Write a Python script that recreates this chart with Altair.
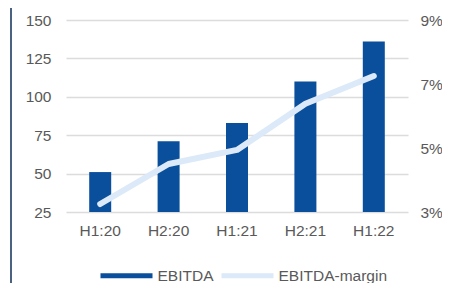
import altair as alt
import pandas as pd

categories = ["H1:20", "H2:20", "H1:21", "H2:21", "H1:22"]
ebitda = [51, 71, 83, 110, 136]
margin = [0.0325, 0.045, 0.0494, 0.0638, 0.0725]
series = ["EBITDA", "EBITDA-margin"]
left_ticks = [25, 50, 75, 100, 125, 150]
right_ticks = [0.03, 0.05, 0.07, 0.09]

BAR = "#0a4f9c"
LINE = "#dbe9f8"
FONT = "Liberation Sans"
TXT = "#595959"

bars_df = pd.DataFrame({"cat": categories, "value": ebitda, "series": series[0]})
line_df = pd.DataFrame({"cat": categories, "margin": margin, "series": series[1]})

xaxis = alt.Axis(labelAngle=0, domain=False, ticks=False, tickSize=0,
                 grid=False, labelPadding=11, labelFontSize=15.5,
                 labelFont=FONT, labelColor=TXT)
xscale = alt.Scale(paddingInner=0.0, paddingOuter=0.0)

color_scale = alt.Scale(domain=series, range=[BAR, LINE])

bars = alt.Chart(bars_df).mark_bar(size=22, color=BAR).encode(
    x=alt.X("cat:N", sort=categories, title=None, scale=xscale, axis=xaxis),
    y=alt.Y("value:Q", title=None,
            scale=alt.Scale(domain=[25, 150], nice=False, zero=False),
            axis=alt.Axis(values=left_ticks, grid=True, gridColor="#dcdcdc",
                          gridWidth=1.5, domain=False, ticks=False, tickSize=0,
                          labelPadding=15, labelFontSize=15.5, labelFont=FONT,
                          labelColor=TXT)),
    y2=alt.Y2(datum=25),
    color=alt.Color("series:N", scale=color_scale, title=None,
                    legend=alt.Legend(orient="none", legendX=34.5, legendY=229.5,
                                      direction="horizontal",
                                      symbolType="M-1,-0.095H1V0.095H-1Z",
                                      symbolSize=2704, symbolStrokeWidth=0,
                                      labelFontSize=15.5, labelFont=FONT,
                                      labelColor=TXT, labelOffset=5,
                                      columnPadding=8, padding=0)),
)

line = alt.Chart(line_df).mark_line(strokeWidth=6, strokeCap="round",
                                    strokeJoin="round").encode(
    x=alt.X("cat:N", sort=categories, title=None, scale=xscale, axis=xaxis),
    y=alt.Y("margin:Q", title=None,
            scale=alt.Scale(domain=[0.03, 0.09], nice=False, zero=False),
            axis=alt.Axis(orient="right", values=right_ticks, format=".0%",
                          grid=False, domain=False, ticks=False, tickSize=0,
                          labelPadding=12, labelFontSize=15.5, labelFont=FONT,
                          labelColor=TXT)),
    color=alt.Color("series:N", scale=color_scale, legend=None),
)

border = alt.Chart(pd.DataFrame({"a": [0]})).mark_rule(
    color="#0e2d57", strokeWidth=1.5).encode(
    x=alt.value(-55), y=alt.value(-12), y2=alt.value(263))

chart = alt.layer(bars, line, border).resolve_scale(y="independent").properties(
    width=342, height=192,
    background="white",
    autosize=alt.AutoSizeParams(type="none"),
    padding={"left": 58, "top": 12, "right": 34, "bottom": 71},
).configure_view(strokeWidth=0, stroke="transparent")

chart.save("out.html", embed_options={"renderer": "svg", "actions": False})
